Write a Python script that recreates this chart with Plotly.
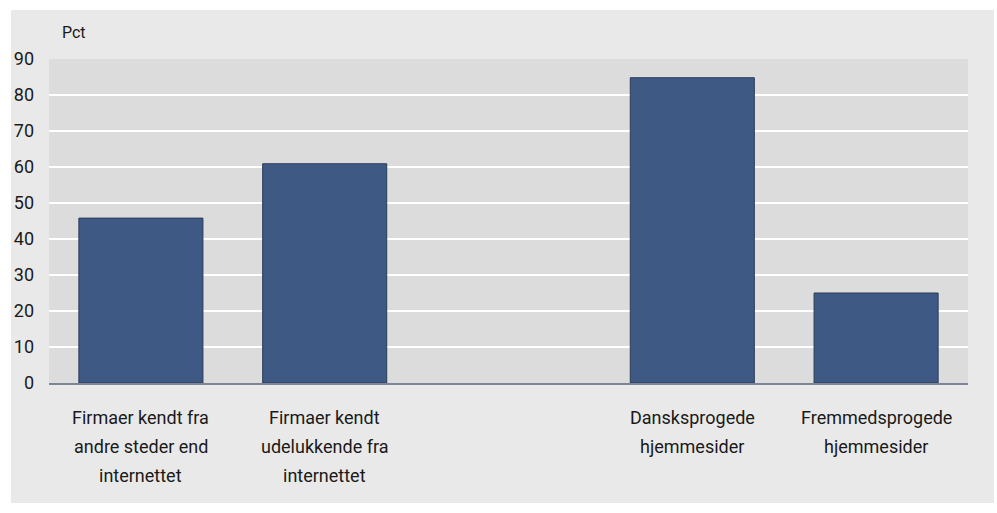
import plotly.graph_objects as go

# Chart data
categories = ["firma_andre", "firma_net", "gap", "dansk", "fremmed"]
label_lines = [
    ["Firmaer kendt fra", "andre steder end", "internettet"],
    ["Firmaer kendt", "udelukkende fra", "internettet"],
    [],
    ["Dansksprogede", "hjemmesider"],
    ["Fremmedsprogede", "hjemmesider"],
]
values = [45.8, 60.9, None, 84.8, 25.0]
y_ticks = [0, 10, 20, 30, 40, 50, 60, 70, 80, 90]

FONT = "Roboto, sans-serif"
TEXT = "#1a1a1a"

fig = go.Figure()
fig.add_bar(
    x=categories,
    y=values,
    marker=dict(color="#3f5985", line=dict(color="#2b3b58", width=1)),
    showlegend=False,
)

# Category labels, one annotation per line for the wide line spacing
for cat, lines in zip(categories, label_lines):
    for i, line in enumerate(lines):
        fig.add_annotation(
            x=cat, y=0, xref="x", yref="paper",
            text=line, showarrow=False,
            yanchor="middle", yshift=-(34 + 29 * i),
            font=dict(family=FONT, size=18, color=TEXT),
        )

fig.add_annotation(
    x=0.012, y=1.083, xref="paper", yref="paper",
    text="Pct", showarrow=False, xanchor="left", yanchor="middle",
    font=dict(family=FONT, size=16, color=TEXT),
)

# White frame strips around the grey panel (top, left, bottom, right)
frame = [
    (-0.06, 1.04, 1.151, 1.2),
    (-0.06, -0.0413, -0.41, 1.2),
    (-0.06, 1.04, -0.41, -0.370),
    (1.0283, 1.04, -0.41, 1.2),
]
for x0, x1, y0, y1 in frame:
    fig.add_shape(type="rect", xref="paper", yref="paper",
                  x0=x0, x1=x1, y0=y0, y1=y1,
                  fillcolor="white", line_width=0, layer="above")

fig.update_layout(
    width=997, height=513,
    margin=dict(l=49, r=29, t=59, b=130),
    paper_bgcolor="#e9e9e9",
    plot_bgcolor="#dcdcdc",
    bargap=0.325,
    font=dict(family=FONT, size=18, color=TEXT),
    xaxis=dict(
        type="category", showticklabels=False, showgrid=False,
        showline=True, linecolor="#7d8496", linewidth=2, ticks="",
    ),
    yaxis=dict(
        range=[0, 90], tickvals=y_ticks, showgrid=True,
        gridcolor="white", gridwidth=2, zeroline=False,
        ticks="", ticklabelstandoff=14,
    ),
)

fig.write_html(
    "out.html",
    config={"displayModeBar": False},
    post_script="document.body.style.margin='0';document.body.style.overflow='hidden';",
)
